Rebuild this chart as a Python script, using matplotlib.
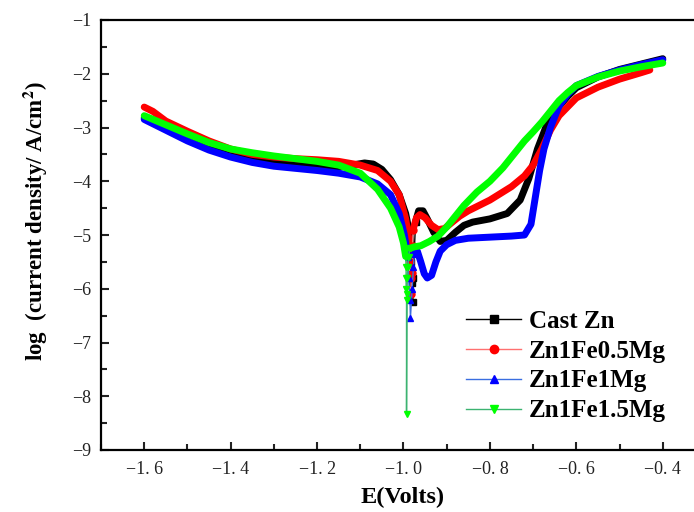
import matplotlib
matplotlib.use("Agg")
import matplotlib.pyplot as plt
from matplotlib.lines import Line2D
from matplotlib.ticker import MultipleLocator, FuncFormatter

plt.rcParams["mathtext.fontset"] = "stix"

# Cast Zn
zn_cath_E = [-1.6, -1.55, -1.5, -1.45, -1.4, -1.35, -1.3, -1.25, -1.2, -1.15, -1.12, -1.09, -1.07,
             -1.05, -1.03, -1.01, -0.995, -0.985, -0.982]
zn_cath_i = [-2.82, -3.0, -3.17, -3.33, -3.45, -3.55, -3.62, -3.67, -3.72, -3.74, -3.7, -3.66, -3.68,
             -3.78, -3.97, -4.25, -4.6, -5.0, -5.5]
zn_spike_E = [-0.982, -0.98, -0.979, -0.977, -0.975, -0.972]
zn_spike_i = [-5.5, -5.9, -6.25, -5.8, -5.3, -4.75]
zn_anod_E = [-0.972, -0.965, -0.955, -0.945, -0.93, -0.915, -0.9, -0.88, -0.86, -0.84, -0.8, -0.76,
             -0.73, -0.71, -0.69, -0.67, -0.65, -0.62, -0.6, -0.55, -0.5, -0.45, -0.4]
zn_anod_i = [-4.75, -4.55, -4.55, -4.7, -4.95, -5.12, -5.1, -4.95, -4.82, -4.76, -4.7, -4.6,
             -4.35, -3.95, -3.4, -2.98, -2.7, -2.42, -2.26, -2.06, -1.92, -1.82, -1.72]

# Zn1Fe0.5Mg
mg05_cath_E = [-1.6, -1.58, -1.55, -1.5, -1.45, -1.4, -1.35, -1.3, -1.25, -1.2, -1.15, -1.1, -1.06,
               -1.03, -1.01, -0.995, -0.987, -0.984]
mg05_cath_i = [-2.62, -2.7, -2.88, -3.07, -3.25, -3.4, -3.5, -3.55, -3.58, -3.6, -3.63, -3.7, -3.8,
               -4.0, -4.25, -4.7, -5.1, -5.5]
mg05_spike_E = [-0.984, -0.983, -0.982, -0.98, -0.979, -0.978]
mg05_spike_i = [-5.5, -5.8, -6.1, -5.7, -5.2, -4.9]
mg05_anod_E = [-0.978, -0.97, -0.962, -0.95, -0.935, -0.92, -0.905, -0.89, -0.87, -0.85, -0.8,
               -0.75, -0.72, -0.7, -0.68, -0.66, -0.64, -0.6, -0.55, -0.5, -0.45, -0.43]
mg05_anod_i = [-4.9, -4.68, -4.62, -4.68, -4.82, -4.9, -4.88, -4.78, -4.65, -4.55, -4.35,
               -4.1, -3.9, -3.7, -3.4, -3.05, -2.78, -2.45, -2.25, -2.1, -1.98, -1.93]

# Zn1Fe1Mg
mg1_cath_E = [-1.6, -1.55, -1.5, -1.45, -1.4, -1.35, -1.3, -1.25, -1.2, -1.15, -1.1, -1.06, -1.03,
              -1.01, -0.998, -0.99]
mg1_cath_i = [-2.85, -3.05, -3.25, -3.42, -3.55, -3.65, -3.72, -3.76, -3.8, -3.85, -3.92, -4.05,
              -4.25, -4.6, -5.0, -5.4]
mg1_spike_E = [-0.99, -0.988, -0.985, -0.984, -0.98, -0.977, -0.975]
mg1_spike_i = [-5.4, -5.8, -6.2, -6.55, -6.0, -5.6, -5.35]
mg1_anod_E = [-0.975, -0.968, -0.96, -0.952, -0.945, -0.935, -0.925, -0.915, -0.9, -0.88, -0.85,
              -0.8, -0.75, -0.72, -0.705, -0.695, -0.685, -0.675, -0.66, -0.64, -0.62, -0.6,
              -0.55, -0.5, -0.45, -0.4]
mg1_anod_i = [-5.35, -5.3, -5.5, -5.72, -5.8, -5.75, -5.5, -5.3, -5.18, -5.1, -5.06,
              -5.04, -5.02, -5.0, -4.8, -4.3, -3.8, -3.4, -3.0, -2.6, -2.38, -2.22,
              -2.05, -1.93, -1.83, -1.74]

# Zn1Fe1.5Mg
mg15_cath_E = [-1.6, -1.55, -1.5, -1.45, -1.4, -1.35, -1.3, -1.25, -1.2, -1.15, -1.1, -1.06, -1.03,
               -1.01, -1.0, -0.995]
mg15_cath_i = [-2.78, -2.95, -3.12, -3.28, -3.4, -3.47, -3.53, -3.58, -3.63, -3.7, -3.85, -4.15,
               -4.5, -4.85, -5.15, -5.4]
mg15_spike_E = [-0.995, -0.994, -0.994, -0.994, -0.993, -0.993, -0.992, -0.991, -0.99, -0.988, -0.985]
mg15_spike_i = [-5.4, -5.6, -5.8, -6.0, -6.2, -8.33, -6.1, -5.8, -5.6, -5.4, -5.25]
mg15_anod_E = [-0.985, -0.975, -0.96, -0.94, -0.92, -0.9, -0.88, -0.86, -0.83, -0.8, -0.77,
               -0.74, -0.72, -0.7, -0.68, -0.66, -0.64, -0.62, -0.6, -0.55, -0.5, -0.45, -0.4]
mg15_anod_i = [-5.25, -5.22, -5.2, -5.12, -5.02, -4.85, -4.65, -4.45, -4.2, -4.0, -3.75,
               -3.45, -3.25, -3.08, -2.9, -2.7, -2.5, -2.35, -2.22, -2.06, -1.95, -1.87, -1.8]

labels = ["Cast Zn", "Zn1Fe0.5Mg", "Zn1Fe1Mg", "Zn1Fe1.5Mg"]
series = [
    (zn_cath_E, zn_cath_i, zn_spike_E, zn_spike_i, zn_anod_E, zn_anod_i),
    (mg05_cath_E, mg05_cath_i, mg05_spike_E, mg05_spike_i, mg05_anod_E, mg05_anod_i),
    (mg1_cath_E, mg1_cath_i, mg1_spike_E, mg1_spike_i, mg1_anod_E, mg1_anod_i),
    (mg15_cath_E, mg15_cath_i, mg15_spike_E, mg15_spike_i, mg15_anod_E, mg15_anod_i),
]
colors = ["#000000", "#ff0000", "#0000ff", "#00ff00"]
thin_colors = ["#000000", "#ff7070", "#3a6ee0", "#3cb371"]
markers = ["s", "o", "^", "v"]

serif = ["Liberation Serif", "Noto Sans CJK SC"]

fig = plt.figure(figsize=(6.94, 5.12), dpi=100)
ax = fig.add_axes([101 / 694, 62 / 512, 605 / 694, 430 / 512])

for (cE, ci, sE, si, aE, ai), c, tc, m in zip(series, colors, thin_colors, markers):
    ax.plot(cE, ci, color=c, lw=5, solid_capstyle="round", solid_joinstyle="round")
    ax.plot(aE, ai, color=c, lw=5, solid_capstyle="round", solid_joinstyle="round")
    ax.plot(sE, si, color=tc, lw=1.0, marker=m, ms=5, mfc=c, mec=c)

ax.set_xlim(-1.7, -0.3)
ax.set_ylim(-9, -1)
ax.xaxis.set_major_locator(MultipleLocator(0.2))
ax.xaxis.set_minor_locator(MultipleLocator(0.1))
ax.yaxis.set_major_locator(MultipleLocator(1))
ax.yaxis.set_minor_locator(MultipleLocator(0.5))
ax.xaxis.set_major_formatter(FuncFormatter(lambda v, p: ("%.1f" % v).replace("-", "\u2212").replace(".", ". ")))
ax.yaxis.set_major_formatter(FuncFormatter(lambda v, p: ("%d" % round(v)).replace("-", "\u2212")))

for s in ax.spines.values():
    s.set_linewidth(1.6)
ax.tick_params(which="both", direction="in", width=1.5, labelsize=13, colors="#222222")
ax.tick_params(which="major", length=6)
ax.tick_params(which="minor", length=4)
ax.tick_params(axis="x", pad=8)
ax.tick_params(axis="y", pad=7)
for t in ax.get_xticklabels() + ax.get_yticklabels():
    t.set_family(serif)

fig.text(403 / 694, 1 - 497 / 512, "E(Volts)", ha="center", va="center",
         fontsize=17.5, fontweight="bold", family=serif)
fig.text(36 / 694, 1 - 221 / 512, "log  (current density/ A/cm$^{\\mathbf{2}}$)",
         ha="center", va="center", rotation=90, fontsize=16.5, fontweight="bold", family=serif)

handles = [Line2D([], [], color=tc, lw=1.0, marker=m, ms=6, mfc=c, mec=c)
           for c, tc, m in zip(colors, thin_colors, markers)]
ax.legend(handles, labels, loc="upper left", bbox_to_anchor=(466 / 694, 1 - 310 / 512),
          bbox_transform=fig.transFigure, frameon=False, borderpad=0, borderaxespad=0,
          handlelength=2.2, handletextpad=0.32, labelspacing=0.27,
          prop={"family": serif, "weight": "bold", "size": 18})

fig.savefig("out.png", dpi=100)
